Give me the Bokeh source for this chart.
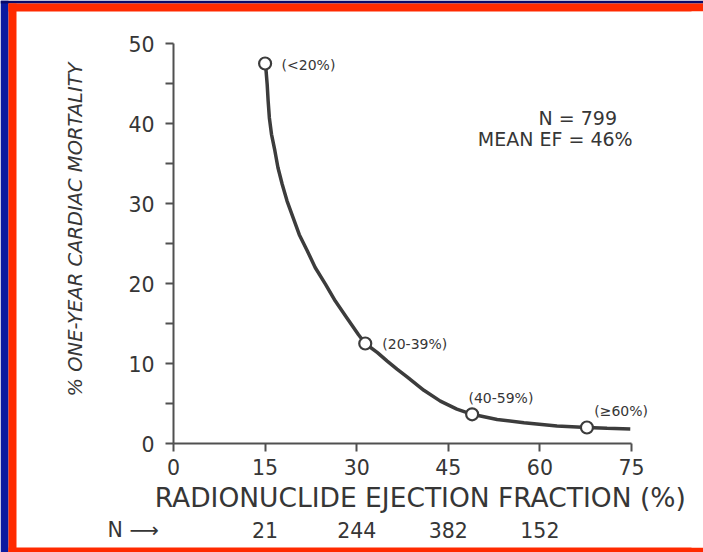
import math
from bokeh.plotting import figure
from bokeh.models import (FixedTicker, Label, LabelSet, ColumnDataSource,
                          Range1d)
from bokeh.core.properties import value
from bokeh.embed import file_html
from bokeh.resources import INLINE

# ---- data ----
curve_ef = [15.06, 15.34, 15.5, 15.7, 16.05, 16.6, 17.1, 17.8, 18.6, 19.6,
            20.6, 21.9, 23.2, 24.9, 26.5, 28.4, 30.3, 31.4, 33.4, 35.0,
            36.6, 38.3, 41.0, 43.7, 46.4, 48.9, 53.0, 57.4, 62.8, 67.7,
            71.0, 74.8]
curve_mort = [47.5, 44.9, 42.8, 40.7, 38.65, 36.6, 34.5, 32.4, 30.3, 28.2,
              26.1, 24.1, 22.0, 19.9, 17.8, 15.7, 13.6, 12.5, 11.35, 10.3,
              9.3, 8.3, 6.65, 5.3, 4.3, 3.65, 3.0, 2.6, 2.2, 2.0,
              1.9, 1.8]

group_ef = [15.0, 31.4, 48.9, 67.7]
group_mort = [47.5, 12.5, 3.65, 2.0]
group_labels = ["(<20%)", "(20-39%)", "(40-59%)", "(\u226560%)"]
label_ef = [17.7, 34.2, 48.3, 68.9]
label_mort = [47.3, 12.5, 5.65, 4.06]

n_positions = [15, 30, 45, 60]
n_counts = ["21", "244", "382", "152"]

x_ticks = [0, 15, 30, 45, 60, 75]
y_ticks = [0, 5, 10, 15, 20, 25, 30, 35, 40, 45, 50]
y_tick_labels = {t: (str(t) if t % 10 == 0 else "") for t in y_ticks}

TEXT = "#363636"
LINE = "#3c3c3c"
AXIS = "#505050"
FONT = "DejaVu Sans"
RED = "#ff2a00"
BLUE = "#0c1aa0"
NAVY = "#0a0a6a"

W, H = 703, 552
X0, X1 = -28.33, 86.79
Y0, Y1 = -13.625, 55.375
p = figure(width=W, height=H, output_backend="svg", toolbar_location=None,
           x_range=Range1d(X0, X1), y_range=Range1d(Y0, Y1),
           min_border=0, background_fill_color="white",
           border_fill_color="white")
p.outline_line_color = None
p.grid.visible = False

for ax in (p.xaxis[0], p.yaxis[0]):
    ax.fixed_location = 0
    ax.axis_line_color = AXIS
    ax.axis_line_width = 2
    ax.major_tick_line_color = AXIS
    ax.major_tick_line_width = 2
    ax.major_tick_out = 8
    ax.major_tick_in = 0
    ax.minor_tick_line_color = None
    ax.major_label_text_font = FONT
    ax.major_label_text_font_size = "20.5px"
    ax.major_label_text_color = TEXT

p.xaxis.ticker = FixedTicker(ticks=x_ticks)
p.xaxis.bounds = (0, 75)
p.xaxis.major_label_standoff = 7

p.yaxis.ticker = FixedTicker(ticks=y_ticks)
p.yaxis.bounds = (0, 50)
p.yaxis.major_label_overrides = y_tick_labels
p.yaxis.major_label_standoff = 11


# slide frame (blue background, red border), given in page pixels
def px_x(px):
    return X0 + px * (X1 - X0) / W


def px_y(py):
    return Y1 - py * (Y1 - Y0) / H


frame_boxes = [
    (0, 8, 0, H, BLUE),
    (0, W, 0, 3, NAVY),
    (8, 16, 3, H, RED),
    (8, W, 3, 11, RED),
    (8, W, H - 5, H, RED),
    (W - 12, W + 4, 11, H - 5, "white"),
]
p.quad(left=[px_x(b[0]) for b in frame_boxes],
       right=[px_x(b[1]) for b in frame_boxes],
       top=[px_y(b[2]) for b in frame_boxes],
       bottom=[px_y(b[3]) for b in frame_boxes],
       fill_color=[b[4] for b in frame_boxes], line_color=None)

p.line(curve_ef, curve_mort, line_color=LINE, line_width=3.5)
p.scatter(group_ef, group_mort, size=12, fill_color="white",
          line_color=LINE, line_width=2.2)

src = ColumnDataSource(dict(x=label_ef, y=label_mort, t=group_labels))
p.add_layout(LabelSet(x="x", y="y", text="t", source=src,
                      text_font=value(FONT), text_font_size="14px",
                      text_color=TEXT, text_baseline="middle"))

p.add_layout(Label(x=66.2, y=40.7, text="N = 799", text_font=FONT,
                   text_font_size="19px", text_color=TEXT,
                   text_align="center", text_baseline="middle"))
p.add_layout(Label(x=63.0, y=38.1, text="MEAN  EF = 46%", text_font=FONT,
                   text_font_size="19px", text_color=TEXT,
                   text_align="center", text_baseline="middle"))

# axis titles
p.add_layout(Label(x=40.4, y=-6.8, text="RADIONUCLIDE EJECTION FRACTION (%)",
                   text_font=FONT, text_font_size="26.5px", text_color=TEXT,
                   text_align="center", text_baseline="middle"))
p.add_layout(Label(x=-16.05, y=26.75, text="% ONE-YEAR CARDIAC MORTALITY",
                   angle=math.pi / 2, text_font=FONT, text_font_size="19.5px",
                   text_font_style="italic", text_color=TEXT,
                   text_align="center", text_baseline="middle"))

# patient counts row
nsrc = ColumnDataSource(dict(x=n_positions, t=n_counts))
p.add_layout(LabelSet(x="x", y=-10.75, text="t", source=nsrc,
                      text_font=value(FONT), text_font_size="20.5px",
                      text_color=TEXT, text_align="center",
                      text_baseline="middle"))
p.add_layout(Label(x=-10.8, y=-10.75, text="N \u27f6", text_font=FONT,
                   text_font_size="20.5px", text_color=TEXT,
                   text_baseline="middle"))

open("out.html", "w").write(file_html(p, INLINE))
